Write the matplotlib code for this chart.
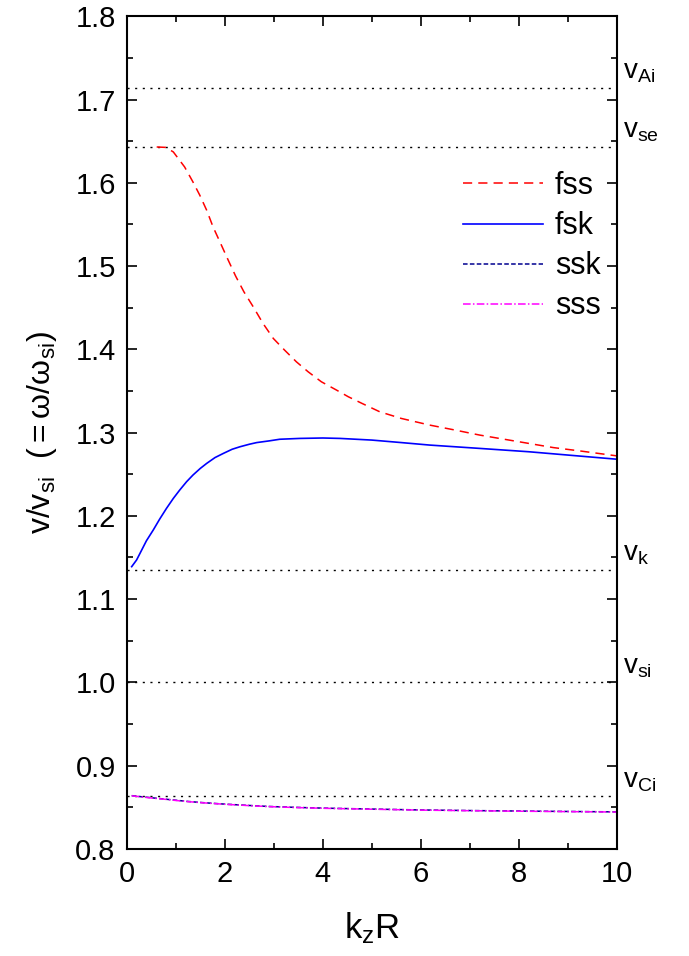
import numpy as np
import matplotlib
matplotlib.use("Agg")
import matplotlib.pyplot as plt
from matplotlib.ticker import MultipleLocator

plt.rcParams['font.family'] = ['Liberation Sans', 'DejaVu Sans']
plt.rcParams['mathtext.fontset'] = 'custom'
plt.rcParams['mathtext.rm'] = 'Liberation Sans'
plt.rcParams['mathtext.it'] = 'Liberation Sans'
plt.rcParams['mathtext.sf'] = 'Liberation Sans'

# characteristic speeds (normalised by v_si)
v_Ai = 1.714
v_se = 1.643
v_k = 1.135
v_si = 1.0
v_Ci = 0.863
speed_labels = ["Ai", "se", "k", "si", "Ci"]
speed_values = [v_Ai, v_se, v_k, v_si, v_Ci]

# fast sausage surface mode
kz_fss = [0.61, 0.8, 0.95, 1.18, 1.35, 1.49, 1.63, 1.76, 1.90, 2.07, 2.22, 2.39,
          2.58, 2.78, 2.99, 3.22, 3.46, 3.70, 3.97, 4.28, 4.52, 4.8, 5.16, 5.6,
          6.18, 6.7, 7.2, 7.7, 8.2, 8.7, 9.24, 10.0]
v_fss = [1.643, 1.6425, 1.637, 1.619, 1.601, 1.585, 1.567, 1.547, 1.529, 1.507,
         1.488, 1.469, 1.451, 1.431, 1.413, 1.399, 1.385, 1.373, 1.361, 1.351,
         1.343, 1.335, 1.325, 1.317, 1.309, 1.303, 1.297, 1.292, 1.287, 1.282,
         1.278, 1.272]

# fast kink surface mode
kz_fsk = [0.1, 0.2, 0.27, 0.4, 0.54, 0.67, 0.81, 0.95, 1.08, 1.22, 1.35, 1.5,
          1.63, 1.8, 1.97, 2.15, 2.31, 2.5, 2.65, 2.9, 3.12, 3.53, 4.0, 4.35, 5.0,
          5.6, 6.18, 7.2, 8.2, 9.2, 10.0]
v_fsk = [1.139, 1.147, 1.155, 1.170, 1.183, 1.196, 1.209, 1.221, 1.231, 1.241,
         1.249, 1.257, 1.263, 1.270, 1.275, 1.280, 1.283, 1.286, 1.288, 1.290,
         1.292, 1.293, 1.2935, 1.293, 1.291, 1.288, 1.285, 1.281, 1.277, 1.272,
         1.268]

# slow kink / slow sausage surface modes
kz_slow = [0.1, 0.25, 0.5, 0.75, 1.0, 1.25, 1.55, 2.0, 2.5, 2.9, 3.4, 4.0, 4.9,
           6.0, 7.0, 8.0, 9.0, 10.0]
v_ssk = [0.864, 0.863, 0.8615, 0.860, 0.8585, 0.8570, 0.8556, 0.8538, 0.8522,
         0.851, 0.850, 0.849, 0.848, 0.8468, 0.8461, 0.8455, 0.8450, 0.8445]
v_sss = [0.8638, 0.8628, 0.8612, 0.8598, 0.8582, 0.8568, 0.8554, 0.8536, 0.8520,
         0.8508, 0.8498, 0.8488, 0.8478, 0.8466, 0.8459, 0.8453, 0.8448, 0.8443]

fig = plt.figure(figsize=(6.89, 9.56), dpi=100)
ax = fig.add_axes([0.184, 0.112, 0.7115, 0.871])

for v in speed_values:
    ax.axhline(v, color='black', lw=1.0, ls=(0, (1.5, 4)))

ax.plot(kz_fss, v_fss, color='red', lw=1.1, ls=(0, (6, 4)), label='fss')
ax.plot(kz_fsk, v_fsk, color='blue', lw=1.2, label='fsk')
ax.plot(kz_slow, v_ssk, color='#000090', lw=1.1, ls=(0, (3, 1.5)), label='ssk')
ax.plot(kz_slow, v_sss, color='magenta', lw=1.1, ls=(0, (5, 1.5, 1, 1.5)), label='sss')

for name, v in zip(speed_labels, speed_values):
    ax.annotate(r'$\mathregular{v_{%s}}$' % name, xy=(1, v),
                xycoords=('axes fraction', 'data'), xytext=(4, 2),
                textcoords='offset points', va='bottom', ha='left',
                fontsize=20, annotation_clip=False)

ax.set_xlim(0, 10)
ax.set_ylim(0.8, 1.8)
ax.xaxis.set_major_locator(MultipleLocator(2))
ax.xaxis.set_minor_locator(MultipleLocator(1))
ax.yaxis.set_major_locator(MultipleLocator(0.1))
ax.yaxis.set_minor_locator(MultipleLocator(0.05))
ax.yaxis.set_major_formatter(plt.FormatStrFormatter('%.1f'))
ax.tick_params(which='both', direction='in', top=True, right=True, width=1.2,
               labelsize=21, pad=8)
ax.tick_params(which='major', length=7)
ax.tick_params(which='minor', length=4.5)
for s in ax.spines.values():
    s.set_linewidth(1.5)

ax.set_xlabel(r'$\mathregular{k_zR}$', fontsize=25, labelpad=16)
ax.set_ylabel(r'$\mathregular{v/v_{si}\ \ (=\omega/\omega_{si})}$', fontsize=23, labelpad=12)

ax.legend(loc='upper left', bbox_to_anchor=(0.686, 0.814), frameon=False,
          fontsize=22, handlelength=2.6, handletextpad=0.4, labelspacing=0.33,
          borderpad=0, borderaxespad=0)

plt.savefig('out.png', dpi=100)
